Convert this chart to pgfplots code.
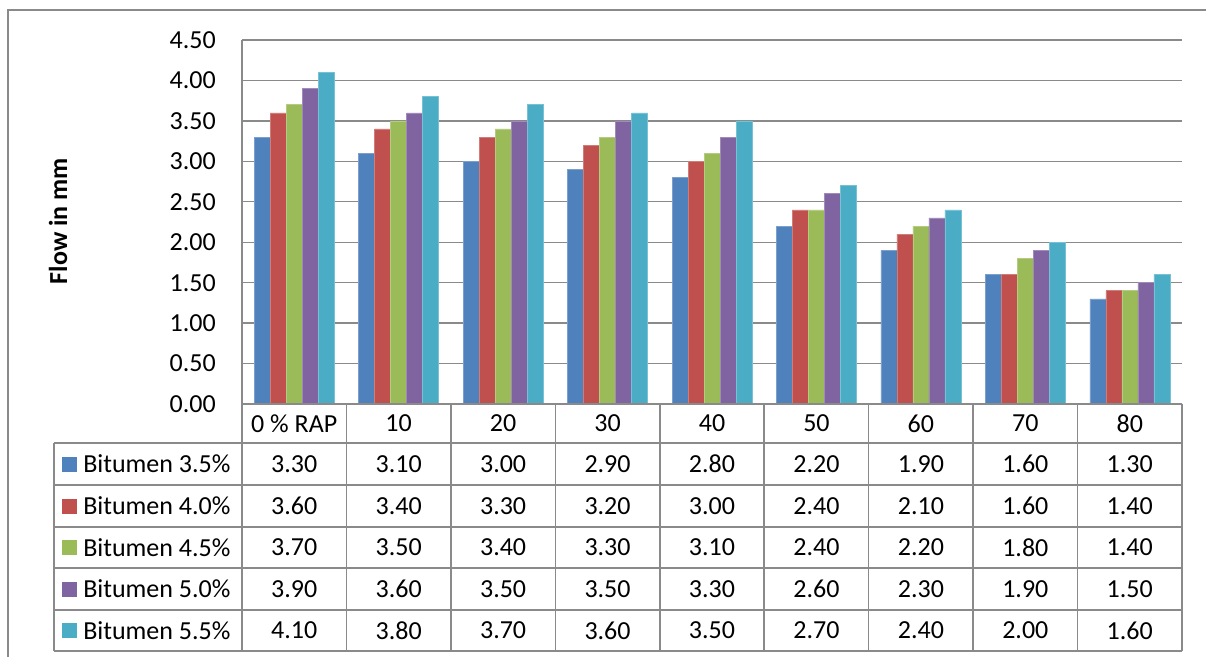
\documentclass[border=0pt]{standalone}
\usepackage{fontspec}
\setmainfont{Carlito}
\usepackage{pgfplots}
\usepackage{pgfplotstable}
\pgfplotsset{compat=1.18}

\definecolor{sA}{HTML}{4F81BD}
\definecolor{sB}{HTML}{C0504D}
\definecolor{sC}{HTML}{9BBB59}
\definecolor{sD}{HTML}{8064A2}
\definecolor{sE}{HTML}{4BACC6}
\definecolor{rule}{HTML}{8A8A8A}

% Flow (mm) for each RAP content (rows) and bitumen content (columns)
\pgfplotstableread{
rap b35 b40 b45 b50 b55
0   3.30 3.60 3.70 3.90 4.10
10  3.10 3.40 3.50 3.60 3.80
20  3.00 3.30 3.40 3.50 3.70
30  2.90 3.20 3.30 3.50 3.60
40  2.80 3.00 3.10 3.30 3.50
50  2.20 2.40 2.40 2.60 2.70
60  1.90 2.10 2.20 2.30 2.40
70  1.60 1.60 1.80 1.90 2.00
80  1.30 1.40 1.40 1.50 1.60
}\flowdata

\newcommand{\chartfont}{\fontsize{19.5}{23}\selectfont}

\begin{document}
\begin{tikzpicture}[/pgf/number format/assume math mode=true]
\useasboundingbox (0,0) rectangle (904.5pt,-492.75pt);

\begin{axis}[
  at={(181.5pt,-303pt)}, anchor=south west,
  width=705pt, height=273pt, scale only axis,
  xmin=-0.5, xmax=8.5, ymin=0, ymax=4.5,
  xtick=\empty,
  ytick={0,0.5,1,1.5,2,2.5,3,3.5,4,4.5},
  ymajorgrids, grid style={rule, line width=1pt},
  axis line style={draw=none},
  major tick length=0pt,
  yticklabel style={font=\chartfont, inner sep=0pt, xshift=-19.5pt},
  /pgf/number format/.cd, fixed, fixed zerofill, precision=2, assume math mode=true,
  /pgfplots/.cd,
  ybar=0pt, bar width=12pt,
  every axis plot/.append style={line width=0.4pt},
]
\addplot[fill=sA, draw=sA!75!white] table[x expr=\coordindex, y=b35] {\flowdata};
\addplot[fill=sB, draw=sB!75!white] table[x expr=\coordindex, y=b40] {\flowdata};
\addplot[fill=sC, draw=sC!75!white] table[x expr=\coordindex, y=b45] {\flowdata};
\addplot[fill=sD, draw=sD!75!white] table[x expr=\coordindex, y=b50] {\flowdata};
\addplot[fill=sE, draw=sE!75!white] table[x expr=\coordindex, y=b55] {\flowdata};
\end{axis}

\begin{scope}[x=0.75pt, y=-0.75pt]
  % outer chart frame
  \draw[rule, line width=1.1pt] (8,657) -- (8,10) -- (1206,10);
  % axis title
  \node[rotate=90, font=\chartfont\bfseries] at (58,221) {Flow in mm};
  % data table grid
  \begin{scope}[rule, line width=1.1pt]
    \draw (242,40) -- (242,651);
    \draw (242,404) -- (1182,404);
    \foreach \i in {1,...,9} \draw ({242+\i*104.444},404) -- ({242+\i*104.444},651);
    \foreach \yy in {443,485,527,568,610,651} \draw (54,\yy) -- (1182,\yy);
    \draw (54,443) -- (54,651);
  \end{scope}
  % category headers
  \foreach \lab [count=\j from 0] in {0 \% RAP,10,20,30,40,50,60,70,80}
    \node[font=\chartfont] at ({242+(\j+0.5)*104.444},423.5) {\lab};
  % series rows: legend key, name and values
  \foreach \col/\clr/\nm/\yc in {b35/sA/3.5/464, b40/sB/4.0/506, b45/sC/4.5/547.5, b50/sD/5.0/589, b55/sE/5.5/630.5} {
    \fill[\clr] (62,\yc-7.5) rectangle (77,\yc+7.5);
    \node[font=\chartfont, anchor=west, inner sep=0pt] at (83,\yc) {Bitumen \nm\%};
    \foreach \j in {0,...,8} {
      \pgfplotstablegetelem{\j}{\col}\of\flowdata
      \node[font=\chartfont] at ({242+(\j+0.5)*104.444},\yc)
        {\pgfmathprintnumber[fixed,fixed zerofill,precision=2,assume math mode=true]{\pgfplotsretval}};
    }
  }
\end{scope}
\end{tikzpicture}
\end{document}
